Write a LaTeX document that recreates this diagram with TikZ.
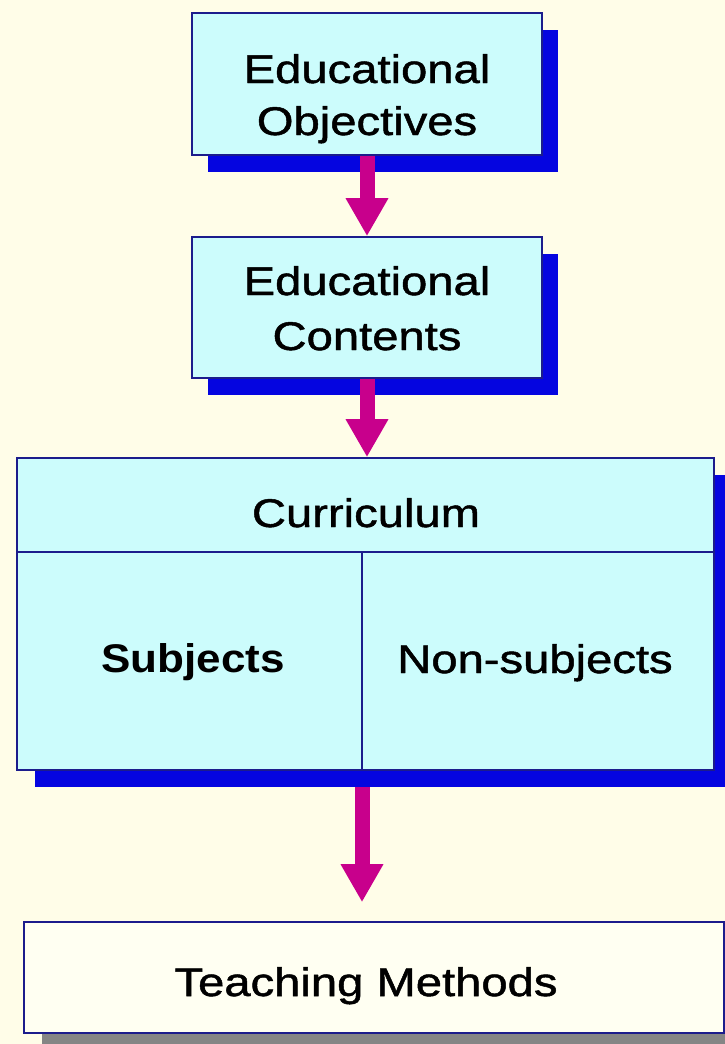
\documentclass[tikz,border=0pt]{standalone}
\usepackage{fontspec}
\setmainfont{Liberation Sans}[
  UprightFeatures={FakeStretch=1.18,FakeBold=1.2},
  BoldFeatures={FakeStretch=1.1}]
\usetikzlibrary{arrows.meta,calc}
\definecolor{paper}{HTML}{FFFDE8}
\definecolor{boxfill}{HTML}{CCFCFC}
\definecolor{edge}{HTML}{1C1C8C}
\definecolor{shade}{HTML}{0505E0}
\definecolor{greyshade}{HTML}{858585}
\definecolor{flow}{HTML}{C8008C}
\definecolor{plain}{HTML}{FFFFF2}
\begin{document}
\begin{tikzpicture}[x=1pt,y=-1pt,
  box/.style={draw=edge,line width=1.6pt,fill=boxfill,rectangle,inner sep=0pt},
  shadowbox/.style={fill=shade,rectangle,inner sep=0pt},
  divider/.style={draw=edge,line width=1.6pt},
  label/.style={anchor=base,inner sep=0pt,font=\fontsize{40}{48}\selectfont},
  flowarrow/.style={draw=flow,line width=15pt,-{Triangle[width=40pt,length=38pt]}}
]
% page and background
\fill[paper] (0,0) rectangle (725,1044);
\clip (0,0) rectangle (725,1044);

% drop shadows
\node[shadowbox,minimum width=350pt,minimum height=142pt] (objsh)   at (383,101) {};
\node[shadowbox,minimum width=350pt,minimum height=141pt] (contsh)  at (383,324.5) {};
\node[shadowbox,minimum width=697pt,minimum height=312pt] (cursh)   at (383.5,631) {};
\node[shadowbox,fill=greyshade,minimum width=700pt,minimum height=111pt] (teachsh) at (392,994.5) {};

% boxes
\node[box,minimum width=350pt,minimum height=142pt] (obj)  at (367,84) {};
\node[box,minimum width=350pt,minimum height=141pt] (cont) at (367,307.5) {};
\node[box,minimum width=697pt,minimum height=312pt] (cur)  at (365.5,614) {};
\node[box,fill=plain,minimum width=700pt,minimum height=111pt] (teach) at (374,977.5) {};

% curriculum split into header, subjects and non-subjects
\coordinate (mid) at (362,0);
\draw[divider] ($(cur.north west)+(0,95)$) coordinate (hl) -- ($(cur.north east)+(0,95)$);
\draw[divider] (hl -| mid) -- (cur.south -| mid);

% labels
\node[label] (t1a) at (367,83)  {Educational};
\node[label] (t1b) at (367,135) {Objectives};
\node[label] (t2a) at (367,295) {Educational};
\node[label] (t2b) at (367,350) {Contents};
\node[label] (tcur) at (366,527) {Curriculum};
\node[label] (tsub) at (193,672) {\bfseries Subjects};
\node[label] (tnon) at (535,673) {Non-subjects};
\node[label] (tteach) at (366,996) {Teaching Methods};

% flow arrows
\draw[flowarrow] (obj.south) -- (cont.north);
\draw[flowarrow] (cont.south) -- (cur.north -| cont.south);
\draw[flowarrow] (cursh.south -| mid) -- ($(teach.north -| mid)+(0,-19)$);
\end{tikzpicture}
\end{document}
